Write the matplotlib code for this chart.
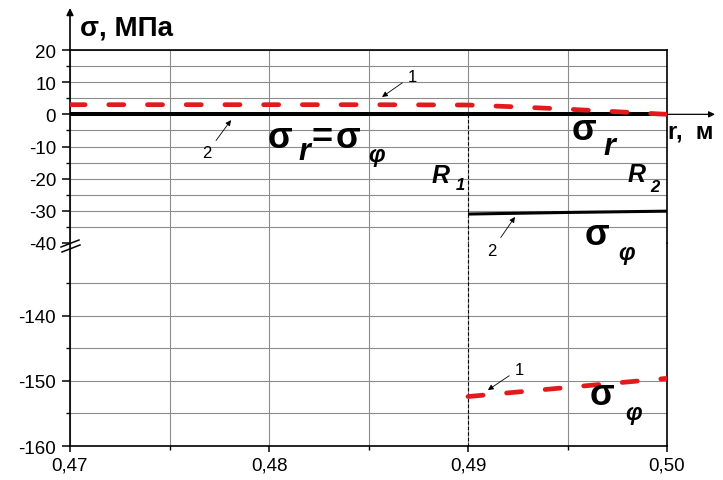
import matplotlib
matplotlib.use('Agg')
import matplotlib.pyplot as plt
from matplotlib.transforms import offset_copy
from matplotlib.lines import Line2D
from matplotlib.ticker import FixedLocator, FixedFormatter

plt.rcParams['font.family'] = ['Liberation Sans', 'DejaVu Sans']
plt.rcParams['axes.unicode_minus'] = False

# ---------------- data ----------------
R1 = 0.49
R2 = 0.50
# curve 1 (red dashed): sigma_r = sigma_phi in the inner part, sigma_r in the outer part
r_c1_top = [0.47, 0.475, 0.48, 0.485, 0.49, 0.4925, 0.495, 0.4975, 0.50]
s_c1_top = [3.0, 3.0, 3.0, 3.0, 2.9, 2.3, 1.6, 0.8, 0.0]
# curve 1 (red dashed): sigma_phi in the outer part
r_c1_bot = [0.49, 0.4925, 0.495, 0.4975, 0.50]
s_c1_bot = [-152.4, -151.7, -151.0, -150.3, -149.6]
# curve 2 (black solid): sigma_r = sigma_phi = 0 inner, sigma_r = 0 outer
r_c2_top = [0.47, 0.48, 0.49, 0.50]
s_c2_top = [0.0, 0.0, 0.0, 0.0]
# curve 2 (black solid): sigma_phi in the outer part
r_c2_phi = [0.49, 0.495, 0.50]
s_c2_phi = [-31.0, -30.5, -30.1]

x_ticks = [0.47, 0.48, 0.49, 0.50]
x_ticklabels = ['0,47', '0,48', '0,49', '0,50']
x_minor = [0.475, 0.485, 0.495]
y_top_ticks = [20, 10, 0, -10, -20, -30, -40]
y_top_ticklabels = ['20', '10', '0', '-10', '-20', '-30', '-40']
y_top_minor = [15, 5, -5, -15, -25, -35]
y_bot_ticks = [-140, -150, -160]
y_bot_ticklabels = ['-140', '-150', '-160']
y_bot_minor = [-135, -145, -155]

RED = '#e31a1c'
GRID = '#8c8c8c'

W, H = 723, 481
fig = plt.figure(figsize=(W / 100, H / 100), dpi=100)
ax_bot = fig.add_axes([70 / W, 1 - 447 / H, 597 / W, 203 / H])
ax_top = fig.add_axes([70 / W, 1 - 244 / H, 597 / W, 193 / H])
ax_top.set_zorder(3)
ax_top.patch.set_visible(False)

ax_top.set_xlim(0.47, 0.50)
ax_bot.set_xlim(0.47, 0.50)
ax_top.set_ylim(-40, 20)
ax_bot.set_ylim(-160, -128.8)

for ax in (ax_top, ax_bot):
    ax.xaxis.set_major_locator(FixedLocator(x_ticks))
    ax.xaxis.set_minor_locator(FixedLocator(x_minor))
    ax.grid(True, which='both', color=GRID, lw=0.8)
    ax.set_axisbelow(True)
    for s in ax.spines.values():
        s.set_linewidth(1.2)
    ax.tick_params(axis='y', which='major', direction='out', length=6, width=1.1,
                   labelsize=13.5, pad=4)
    ax.tick_params(axis='y', which='minor', direction='out', length=3, width=1.0)
    ax.tick_params(axis='x', which='major', direction='out', length=4.5, width=1.1,
                   labelsize=13.5, pad=3)
    ax.tick_params(axis='x', which='minor', direction='out', length=3, width=1.0)

ax_top.yaxis.set_major_locator(FixedLocator(y_top_ticks))
ax_top.yaxis.set_major_formatter(FixedFormatter(y_top_ticklabels))
ax_top.yaxis.set_minor_locator(FixedLocator(y_top_minor))
ax_bot.yaxis.set_major_locator(FixedLocator(y_bot_ticks))
ax_bot.yaxis.set_major_formatter(FixedFormatter(y_bot_ticklabels))
ax_bot.yaxis.set_minor_locator(FixedLocator(y_bot_minor))
ax_bot.xaxis.set_major_formatter(FixedFormatter(x_ticklabels))

ax_top.tick_params(axis='x', which='both', bottom=False, labelbottom=False)
ax_top.spines['bottom'].set_visible(False)
ax_bot.spines['top'].set_visible(False)

# hide gridline at the break (-40)
fig.canvas.draw()
for tick in ax_top.yaxis.get_major_ticks():
    if tick.get_loc() == -40:
        tick.gridline.set_visible(False)

# ---------------- curves ----------------
ax_top.plot(r_c2_top, s_c2_top, color='black', lw=2.9, solid_capstyle='butt', zorder=3)
ax_top.plot(r_c2_phi, s_c2_phi, color='black', lw=2.2, solid_capstyle='butt', zorder=3)
ax_top.plot(r_c1_top, s_c1_top, color=RED, lw=3.4, dashes=(3.2, 5.0),
            dash_capstyle='round', zorder=4)
ax_bot.plot(r_c1_bot, s_c1_bot, color=RED, lw=3.4, dashes=(3.2, 5.0),
            dash_capstyle='round', zorder=4)

# vertical dashed line at R1
ax_top.plot([R1, R1], [0, -40], color='black', lw=0.8, dashes=(3, 2), zorder=2)
ax_bot.plot([R1, R1], [-128.8, -160], color='black', lw=0.8, dashes=(3, 2), zorder=2)

# ---------------- axis arrows & break ----------------
ax_top.annotate('', xy=(0, 1 + 42 / 193), xytext=(0, 1), xycoords='axes fraction',
                arrowprops=dict(arrowstyle='-|>', lw=1.2, color='black',
                                mutation_scale=10, shrinkA=0, shrinkB=0),
                annotation_clip=False)
ax_top.annotate('', xy=(1 + 48 / 597, 0), xytext=(1, 0),
                xycoords=('axes fraction', 'data'),
                arrowprops=dict(arrowstyle='-|>', lw=0.9, color='black',
                                mutation_scale=9, shrinkA=0, shrinkB=0),
                annotation_clip=False)

for (x0, y0, x1, y1) in [(61, 248, 79, 241), (62, 253, 80, 246)]:
    fig.add_artist(Line2D([x0 / W, x1 / W], [1 - y0 / H, 1 - y1 / H],
                          color='black', lw=1.1))

# ---------------- labels ----------------
fig.text(80 / W, 1 - 36 / H, 'σ, МПа', fontsize=20, fontweight='bold',
         ha='left', va='baseline')
fig.text(668 / W, 1 - 138 / H, 'r,  м', fontsize=17, fontweight='bold',
         ha='left', va='baseline')


def sig(ax, x, y, sub, dx, dy, size=26, subsize=20, main='σ', mainstyle='normal'):
    ax.text(x, y, main, fontsize=size, fontweight='bold', style=mainstyle,
            ha='left', va='baseline', zorder=6)
    tr = offset_copy(ax.transData, fig=fig, x=dx, y=-dy, units='dots')
    ax.text(x, y, sub, fontsize=subsize, fontweight='bold', style='italic',
            ha='left', va='baseline', transform=tr, zorder=6)


# σ_r = σ_φ
sig(ax_top, 0.47995, -10.2, 'r', 30, 12, subsize=22)
tr_eq = offset_copy(ax_top.transData, fig=fig, x=43, y=0, units='dots')
ax_top.text(0.47995, -10.2, '=', fontsize=26, fontweight='bold', ha='left',
            va='baseline', transform=tr_eq)
sig(ax_top, 0.48337, -10.2, 'φ', 32, 14, subsize=17)
# σ_r on the right
sig(ax_top, 0.49523, -7.7, 'r', 31, 15, subsize=22)
# σ_φ (curve 2)
sig(ax_top, 0.49588, -40.3, 'φ', 33, 15, subsize=17)
# σ_φ (curve 1)
sig(ax_bot, 0.49613, -153.5, 'φ', 35, 15, subsize=17)
# R1, R2
sig(ax_top, 0.48819, -21.0, '1', 24, 7, size=18, subsize=12, main='R', mainstyle='italic')
sig(ax_top, 0.49804, -20.7, '2', 22, 10, size=18, subsize=12, main='R', mainstyle='italic')

# curve number call-outs


def note(ax, txt, tip, pos):
    ax.annotate(txt, xy=tip, xytext=pos, fontsize=12, ha='center', va='center',
                arrowprops=dict(arrowstyle='-|>', lw=0.6, color='black',
                                mutation_scale=8, shrinkA=2, shrinkB=0),
                annotation_clip=False, zorder=6)


note(ax_top, '2', (0.47809, -1.8), (0.47688, -12.0))
note(ax_top, '1', (0.48568, 5.4), (0.48719, 11.9))
note(ax_top, '2', (0.49236, -31.9), (0.49121, -42.2))
note(ax_bot, '1', (0.49100, -151.4), (0.49256, -148.2))

fig.savefig('out.png', dpi=100)
